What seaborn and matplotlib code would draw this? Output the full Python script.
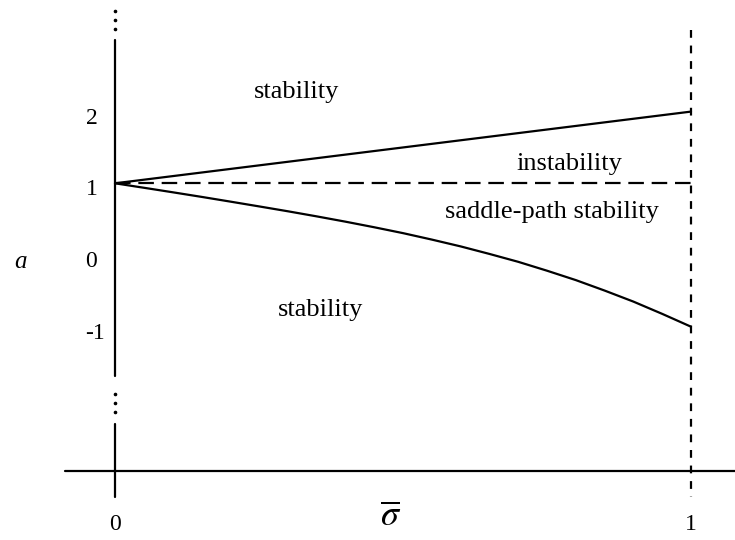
import numpy as np
import pandas as pd
import matplotlib
matplotlib.use("Agg")
import matplotlib.pyplot as plt
import seaborn as sns

# ---- data ----
sigma_upper = [0.0, 1.0]
a_upper = [1.0, 2.0]

sigma_lower = [0.0, 0.05, 0.1, 0.15, 0.2, 0.25, 0.3, 0.35, 0.4, 0.45, 0.5,
               0.55, 0.6, 0.65, 0.7, 0.75, 0.8, 0.85, 0.9, 0.95, 1.0]
a_lower = [1.0, 0.938, 0.875, 0.811, 0.745, 0.678, 0.61, 0.539, 0.465,
           0.387, 0.305, 0.215, 0.12, 0.015, -0.095, -0.219, -0.35, -0.496,
           -0.65, -0.821, -1.0]

sigma_flat = [0.0, 1.0]
a_flat = [1.0, 1.0]

y_ticks = [2, 1, 0, -1]
y_tick_labels = ["2", "1", "0", "-1"]
x_ticks = [0, 1]
x_tick_labels = ["0", "1"]

regions = ["stability", "instability", "saddle-path stability", "stability"]
region_sigma = [0.315, 0.789, 0.759, 0.357]
region_a = [2.27, 1.27, 0.60, -0.77]

# ---- style ----
sns.set_theme(style="white")
plt.rcParams["font.family"] = ["Liberation Serif", "DejaVu Serif"]
plt.rcParams["mathtext.fontset"] = "stix"

W, H = 735, 540
fig = plt.figure(figsize=(W / 100, H / 100), dpi=100)
ax = fig.add_axes([0, 0, 1, 1])
ax.set_axis_off()

# pixel mapping: sigma=0 at x=115, sigma=1 at x=691 ; a=1 at y=183.3, 71.7 px per unit
X0, XS = 115.0, 576.0
Y1, YS = 183.3, 71.7
XLIM = (-X0 / XS, (W - X0) / XS)
YLIM = (1 - (H - Y1) / YS, 1 + Y1 / YS)


def ya(py):
    return 1 - (py - Y1) / YS


def xs(px):
    return (px - X0) / XS


lw = 1.6
# horizontal axis
ax.plot([xs(65), xs(735)], [ya(471), ya(471)], color="black", lw=lw)
# vertical axis (broken)
ax.plot([0, 0], [ya(40), ya(376)], color="black", lw=lw)
ax.plot([0, 0], [ya(424), ya(497)], color="black", lw=lw)
ax.plot([0, 0, 0], [ya(11), ya(20), ya(28.7)], ls="none", marker="o",
        ms=1.6, color="black")
ax.plot([0, 0, 0], [ya(394.3), ya(403.3), ya(412.3)], ls="none", marker="o",
        ms=1.6, color="black")
# right dashed boundary sigma=1
ax.plot([1, 1], [ya(30), ya(497)], color="black", lw=lw, ls=(0, (3.5, 3.5)))

# curves
df_up = pd.DataFrame({"sigma": sigma_upper, "a": a_upper})
df_low = pd.DataFrame({"sigma": sigma_lower, "a": a_lower})
df_flat = pd.DataFrame({"sigma": sigma_flat, "a": a_flat})
sns.lineplot(data=df_up, x="sigma", y="a", ax=ax, color="black", lw=lw,
             sort=False)
sns.lineplot(data=df_low, x="sigma", y="a", ax=ax, color="black", lw=lw,
             sort=False)
sns.lineplot(data=df_flat, x="sigma", y="a", ax=ax, color="black", lw=lw,
             sort=False, linestyle=(0, (7, 3.5)))
ax.set_xlim(*XLIM)
ax.set_ylim(*YLIM)
ax.set_axis_off()

fs_region = 19
fs_tick = 17

for t, s, a in zip(regions, region_sigma, region_a):
    ax.text(s, a, t, ha="center", va="center", fontsize=fs_region,
            color="black")

for v, lab in zip(y_ticks, y_tick_labels):
    ax.text(xs(85.5), v - 0.09, lab, ha="left", va="center",
            fontsize=fs_tick, color="black")

for v, lab in zip(x_ticks, x_tick_labels):
    ax.text(v, ya(524), lab, ha="center", va="center", fontsize=fs_tick,
            color="black")

ax.text(xs(391), ya(517), r"$\overline{\sigma}$", ha="center", va="center",
        fontsize=26, color="black")
ax.text(xs(20), ya(262), "a", ha="center", va="center", fontsize=fs_tick + 1,
        style="italic", color="black")

fig.savefig("out.png", dpi=100)
